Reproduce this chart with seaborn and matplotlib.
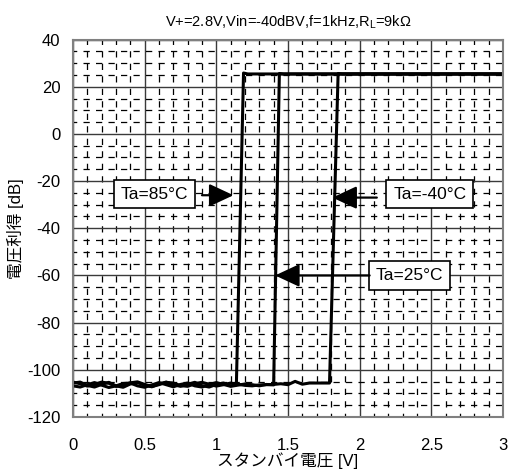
import numpy as np
import pandas as pd
import matplotlib
matplotlib.use("Agg")
import matplotlib.pyplot as plt
from matplotlib.ticker import MultipleLocator
import seaborn as sns

# Standby voltage sweep, gain
x_85 = [0.00, 0.05, 0.10, 0.15, 0.20, 0.25, 0.30, 0.35, 0.40, 0.45, 0.50, 0.55,
        0.60, 0.65, 0.70, 0.75, 0.80, 0.85, 0.90, 0.95, 1.00, 1.05, 1.10, 1.14,
        1.19, 1.22, 3.00]
y_85 = [-105.6, -105.2, -106.6, -107.3, -106.2, -105.3, -106.8, -107.4, -106.0, -105.4,
        -106.5, -107.2, -106.0, -105.2, -106.3, -107.0, -106.1, -105.3, -106.7, -107.3,
        -106.2, -105.6, -106.8, -106.3, 25.8, 25.4, 25.4]

x_25 = [0.00, 0.05, 0.10, 0.15, 0.20, 0.25, 0.30, 0.35, 0.40, 0.45, 0.50, 0.55,
        0.60, 0.65, 0.70, 0.75, 0.80, 0.85, 0.90, 0.95, 1.00, 1.05, 1.10, 1.15,
        1.20, 1.25, 1.30, 1.35, 1.40, 1.44, 1.47, 3.00]
y_25 = [-106.8, -107.3, -106.3, -105.4, -106.5, -107.5, -106.8, -105.8, -105.6, -106.8,
        -107.4, -106.4, -105.4, -106.3, -107.2, -106.2, -105.6, -106.8, -107.3, -106.3,
        -105.4, -106.2, -107.0, -106.5, -106.0, -106.3, -106.8, -106.2, -106.4, 25.6,
        25.4, 25.4]

x_m40 = [0.00, 0.05, 0.10, 0.15, 0.20, 0.25, 0.30, 0.35, 0.40, 0.45, 0.50, 0.55,
         0.60, 0.65, 0.70, 0.75, 0.80, 0.85, 0.90, 0.95, 1.00, 1.05, 1.10, 1.15,
         1.20, 1.25, 1.30, 1.35, 1.40, 1.45, 1.50, 1.55, 1.60, 1.65, 1.70, 1.75,
         1.79, 1.85, 1.88, 3.00]
y_m40 = [-105.2, -105.9, -106.9, -106.2, -105.2, -105.7, -107.0, -106.5, -105.5, -105.1,
         -106.2, -107.1, -106.3, -105.3, -105.6, -106.7, -107.0, -105.9, -105.3, -106.1,
         -106.9, -106.3, -105.6, -106.1, -106.6, -106.8, -106.4, -106.3, -106.2, -105.9,
         -106.3, -104.9, -106.1, -105.6, -105.6, -105.6, -105.6, 25.6, 25.4, 25.4]

labels = ["Ta=85°C", "Ta=25°C", "Ta=-40°C"]

df = pd.concat([
    pd.DataFrame({"v": x_85, "gain": y_85, "curve": labels[0]}),
    pd.DataFrame({"v": x_25, "gain": y_25, "curve": labels[1]}),
    pd.DataFrame({"v": x_m40, "gain": y_m40, "curve": labels[2]}),
], ignore_index=True)

sns.set_style("white")
plt.rcParams["font.family"] = ["Liberation Sans", "Noto Sans CJK JP", "DejaVu Sans"]
plt.rcParams["mathtext.fontset"] = "custom"
plt.rcParams["mathtext.rm"] = "Liberation Sans"
plt.rcParams["mathtext.it"] = "Liberation Sans"
plt.rcParams["axes.unicode_minus"] = False
plt.rcParams["text.color"] = "black"
plt.rcParams["xtick.color"] = "black"
plt.rcParams["ytick.color"] = "black"
plt.rcParams["axes.labelcolor"] = "black"

fig = plt.figure(figsize=(5.08, 4.75), dpi=100)
ax = fig.add_axes([0.1437, 0.1221, 0.8463, 0.7947])

# grid first so curves sit on top
ax.set_xlim(0, 3)
ax.set_ylim(-120, 40)
ax.xaxis.set_major_locator(MultipleLocator(0.5))
ax.xaxis.set_minor_locator(MultipleLocator(0.1))
ax.yaxis.set_major_locator(MultipleLocator(20))
ax.yaxis.set_minor_locator(MultipleLocator(5))
ax.grid(which="major", color="#3a3a3a", lw=1.0, ls="-")
ax.grid(which="minor", color="#000000", lw=0.9, ls=(2, (5, 5)))
ax.set_axisbelow(True)

sns.lineplot(data=df, x="v", y="gain", units="curve", estimator=None, sort=False,
             color="black", lw=2.2, ax=ax, legend=False)

ax.set_xlim(0, 3)
ax.set_ylim(-120, 40)
ax.set_xticks([0, 0.5, 1, 1.5, 2, 2.5, 3])
ax.set_xticklabels(["0", "0.5", "1", "1.5", "2", "2.5", "3"])
ax.set_yticks(range(-120, 41, 20))
ax.tick_params(which="both", length=0, labelsize=12)
ax.tick_params(axis="x", pad=15)
ax.tick_params(axis="y", pad=9)
for s in ax.spines.values():
    s.set_color("#808080")
    s.set_linewidth(1.5)

ax.set_xlabel("スタンバイ電圧 [V]", fontsize=12, labelpad=0)
ax.set_ylabel("電圧利得 [dB]", fontsize=12, labelpad=2)
ax.set_title(r"V+=2.8V,Vin=-40dBV,f=1kHz,R$_\mathrm{L}$=9kΩ", fontsize=10.5, pad=9)

box = dict(boxstyle="square,pad=0.4", fc="white", ec="black", lw=1.2)
arrow = dict(arrowstyle="-|>,head_length=0.75,head_width=0.35", mutation_scale=20,
             color="black", lw=1.6, shrinkA=0, shrinkB=0)

ax.text(0.57, -25.5, labels[0], ha="center", va="center", fontsize=12.5, bbox=box)
ax.annotate("", xy=(1.12, -26), xytext=(0.90, -26), arrowprops=arrow)

ax.text(2.49, -25.5, labels[2], ha="center", va="center", fontsize=12.5, bbox=box)
ax.annotate("", xy=(1.81, -27), xytext=(2.12, -27), arrowprops=arrow)

ax.text(2.35, -60, labels[1], ha="center", va="center", fontsize=12.5, bbox=box)
ax.annotate("", xy=(1.41, -60), xytext=(2.07, -60), arrowprops=arrow)

fig.savefig("out.png", dpi=100)
